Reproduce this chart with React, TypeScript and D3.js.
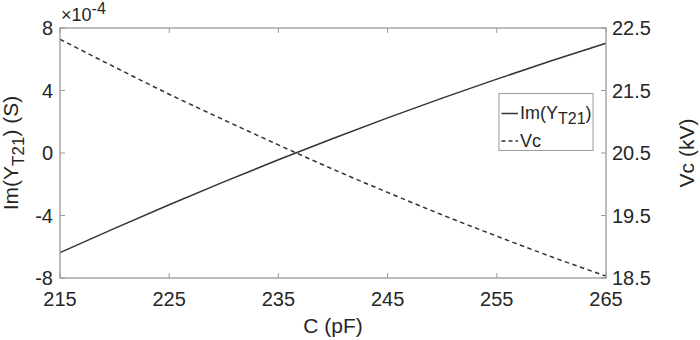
import React from "react";
import * as d3 from "d3";

const capacitance = [215, 220, 225, 230, 235, 240, 245, 250, 255, 260, 265];
const imY = [-6.38, -4.82, -3.31, -1.85, -0.43, 0.93, 2.25, 3.51, 4.73, 5.9, 7.02];
const vc = [22.32, 21.875, 21.44, 21.03, 20.63, 20.24, 19.87, 19.51, 19.17, 18.84, 18.53];
const xTicks = [215, 225, 235, 245, 255, 265];
const yLeftTicks = [-8, -4, 0, 4, 8];
const yRightTicks = [18.5, 19.5, 20.5, 21.5, 22.5];

const W = 700, H = 340;
const L = 60, R = 606, T = 28, B = 278;
const axisColor = "#9a9a9a";
const textColor = "#262626";
const lineColor = "#333333";
const font = "Arial, 'Liberation Sans', Helvetica, sans-serif";

export default function App() {
  const x = d3.scaleLinear().domain([215, 265]).range([L, R]);
  const yl = d3.scaleLinear().domain([-8, 8]).range([B, T]);
  const yr = d3.scaleLinear().domain([18.5, 22.5]).range([B, T]);
  const lineL = d3.line<number>().x((_, i) => x(capacitance[i])).y((d) => yl(d)).curve(d3.curveMonotoneX);
  const lineR = d3.line<number>().x((_, i) => x(capacitance[i])).y((d) => yr(d)).curve(d3.curveMonotoneX);
  const tl = 5;
  return (
    <svg width={W} height={H} style={{ position: "absolute", left: 0, top: 0 }} fontFamily={font}>
      <rect x={0} y={0} width={W} height={H} fill="#fff" />
      <path d={lineR(vc) || ""} fill="none" stroke={lineColor} strokeWidth={1.5} strokeDasharray="4.5,3.5" />
      <path d={lineL(imY) || ""} fill="none" stroke={lineColor} strokeWidth={1.5} />
      <rect x={L} y={T} width={R - L} height={B - T} fill="none" stroke={axisColor} strokeWidth={1.3} />
      {xTicks.map((t) => (
        <g key={"x" + t}>
          <line x1={x(t)} x2={x(t)} y1={B} y2={B - tl} stroke={axisColor} strokeWidth={1} />
          <line x1={x(t)} x2={x(t)} y1={T} y2={T + tl} stroke={axisColor} strokeWidth={1} />
          <text x={x(t)} y={306} textAnchor="middle" fontSize={20} fill={textColor}>{t}</text>
        </g>
      ))}
      {yLeftTicks.map((t) => (
        <g key={"yl" + t}>
          <line x1={L} x2={L + tl} y1={yl(t)} y2={yl(t)} stroke={axisColor} strokeWidth={1} />
          <text x={L - 7} y={yl(t) + 7} textAnchor="end" fontSize={20} fill={textColor}>{t}</text>
        </g>
      ))}
      {yRightTicks.map((t) => (
        <g key={"yr" + t}>
          <line x1={R} x2={R - tl} y1={yr(t)} y2={yr(t)} stroke={axisColor} strokeWidth={1} />
          <text x={R + 6} y={yr(t) + 7} textAnchor="start" fontSize={20} fill={textColor}>{t.toFixed(1)}</text>
        </g>
      ))}
      <text x={61} y={21} fontSize={18} fill={textColor}>
        ×10<tspan dy={-7} fontSize={16}>-4</tspan>
      </text>
      <text x={(L + R) / 2} y={333} textAnchor="middle" fontSize={21} fill={textColor}>C (pF)</text>
      <text transform={`translate(18,${(T + B) / 2}) rotate(-90)`} textAnchor="middle" fontSize={21} fill={textColor}>
        Im(Y<tspan dy={6} fontSize={17}>T21</tspan><tspan dy={-6}>) (S)</tspan>
      </text>
      <text transform={`translate(694,${(T + B) / 2}) rotate(-90)`} textAnchor="middle" fontSize={21} fill={textColor}>Vc (kV)</text>
      <rect x={499} y={93.5} width={94} height={57} fill="#fff" stroke={axisColor} strokeWidth={1} />
      <line x1={501.5} x2={518} y1={113.5} y2={113.5} stroke={lineColor} strokeWidth={1.5} />
      <text x={520} y={119} fontSize={18} fill={textColor}>
        Im(Y<tspan dy={5} fontSize={16}>T21</tspan><tspan dy={-5}>)</tspan>
      </text>
      <line x1={501.5} x2={518} y1={141} y2={141} stroke={lineColor} strokeWidth={1.5} strokeDasharray="4,3" />
      <text x={520} y={147} fontSize={18} fill={textColor}>Vc</text>
    </svg>
  );
}
